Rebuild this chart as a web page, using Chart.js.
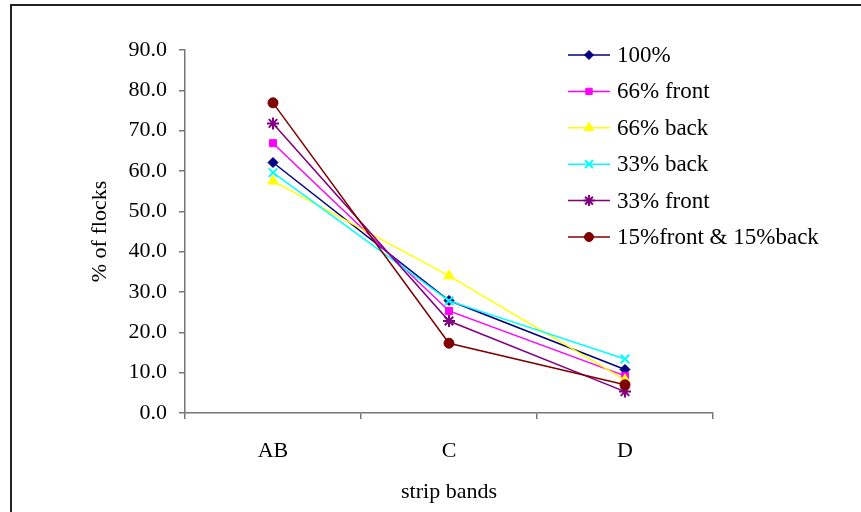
<!DOCTYPE html>
<html>
<head>
<meta charset="utf-8">
<script src="https://cdn.jsdelivr.net/npm/chart.js@4.4.0/dist/chart.umd.min.js"></script>
<style>
  html, body { margin: 0; padding: 0; background: #fff; }
  canvas { display: block; }
</style>
</head>
<body>
<canvas id="flockChart" width="861" height="512"></canvas>
<script>
const categories = ['AB', 'C', 'D'];
const seriesNames = ['100%', '66% front', '66% back', '33% back', '33% front', '15%front & 15%back'];
const full = [62.1, 27.9, 10.8];
const front66 = [66.9, 25.3, 9.2];
const back66 = [57.5, 34.0, 8.2];
const back33 = [59.6, 27.8, 13.4];
const front33 = [71.8, 22.8, 5.3];
const frontBack15 = [76.9, 17.3, 7.0];
const yTicks = [0, 10, 20, 30, 40, 50, 60, 70, 80, 90];

const seriesValues = [full, front66, back66, back33, front33, frontBack15];
const colors = ['#000080', '#FF00FF', '#FFFF00', '#00FFFF', '#800080', '#800000'];
const pointStyles = ['rectRot', 'rect', 'triangle', 'crossRot', 'star', 'circle'];
const radii = [5, 5, 6, 6, 6, 5];

const font = "'Liberation Serif', 'Times New Roman', serif";

const datasets = seriesValues.map(function (vals, i) {
  return {
    label: seriesNames[i],
    data: vals,
    borderColor: colors[i],
    backgroundColor: colors[i],
    borderWidth: 1.5,
    pointStyle: pointStyles[i],
    pointRadius: radii[i],
    pointBorderWidth: (pointStyles[i] === 'crossRot' || pointStyles[i] === 'star') ? 2 : 1,
    pointHoverRadius: radii[i],
    tension: 0,
    order: seriesValues.length - i
  };
});

// frame round the whole chart
const framePlugin = {
  id: 'frame',
  beforeDraw: function (chart) {
    const ctx = chart.ctx;
    ctx.save();
    ctx.fillStyle = '#fff';
    ctx.fillRect(0, 0, chart.width, chart.height);
    ctx.strokeStyle = '#222';
    ctx.lineWidth = 2;
    ctx.beginPath();
    ctx.moveTo(11, chart.height + 5);
    ctx.lineTo(11, 5);
    ctx.lineTo(chart.width + 5, 5);
    ctx.stroke();
    ctx.restore();
  }
};

// excel style legend: line with marker through it
const legendPlugin = {
  id: 'excelLegend',
  afterDraw: function (chart) {
    const ctx = chart.ctx;
    ctx.save();
    ctx.font = '23px ' + font;
    ctx.textBaseline = 'middle';
    ctx.textAlign = 'left';
    chart.data.datasets.forEach(function (ds, i) {
      const y = 55 + i * 36.4;
      ctx.strokeStyle = ds.borderColor;
      ctx.lineWidth = 1.5;
      ctx.beginPath();
      ctx.moveTo(568, y);
      ctx.lineTo(610, y);
      ctx.stroke();
      if (Chart.helpers && Chart.helpers.drawPoint) {
        ctx.fillStyle = ds.backgroundColor;
        ctx.strokeStyle = ds.borderColor;
        ctx.lineWidth = ds.pointBorderWidth;
        Chart.helpers.drawPoint(ctx, {
          pointStyle: ds.pointStyle,
          radius: ds.pointRadius - 0.5,
          rotation: 0,
          borderWidth: ds.pointBorderWidth
        }, 589, y);
      }
      ctx.fillStyle = '#000';
      ctx.fillText(ds.label, 617, y + 1);
    });
    ctx.restore();
  }
};

new Chart(document.getElementById('flockChart').getContext('2d'), {
  type: 'line',
  data: { labels: categories, datasets: datasets },
  options: {
    responsive: false,
    animation: false,
    events: [],
    layout: { padding: { left: 83, right: 148, top: 50, bottom: 0 } },
    plugins: {
      legend: { display: false },
      tooltip: { enabled: false }
    },
    scales: {
      x: {
        offset: true,
        afterFit: function (scale) { scale.height = 99; },
        border: { color: '#777', width: 1.5 },
        grid: { offset: true, drawOnChartArea: false, tickLength: 6, color: '#777', lineWidth: 1.5 },
        ticks: { color: '#000', font: { family: font, size: 22 }, padding: 19, maxRotation: 0 },
        title: { display: true, text: 'strip bands', color: '#000', font: { family: font, size: 22 }, padding: { top: 10, bottom: 7 } }
      },
      y: {
        min: 0,
        max: 90,
        afterFit: function (scale) { scale.width = 102; },
        afterBuildTicks: function (scale) { scale.ticks = yTicks.map(function (v) { return { value: v }; }); },
        border: { color: '#777', width: 1.5 },
        grid: { drawOnChartArea: false, tickLength: 6, color: '#777', lineWidth: 1.5 },
        ticks: {
          color: '#000',
          font: { family: font, size: 22 },
          padding: 12,
          callback: function (v) { return Number(v).toFixed(1); }
        },
        title: { display: true, text: '% of flocks', color: '#000', font: { family: font, size: 22 }, padding: { top: 4, bottom: 0 } }
      }
    }
  },
  plugins: [framePlugin, legendPlugin]
});
</script>
</body>
</html>
